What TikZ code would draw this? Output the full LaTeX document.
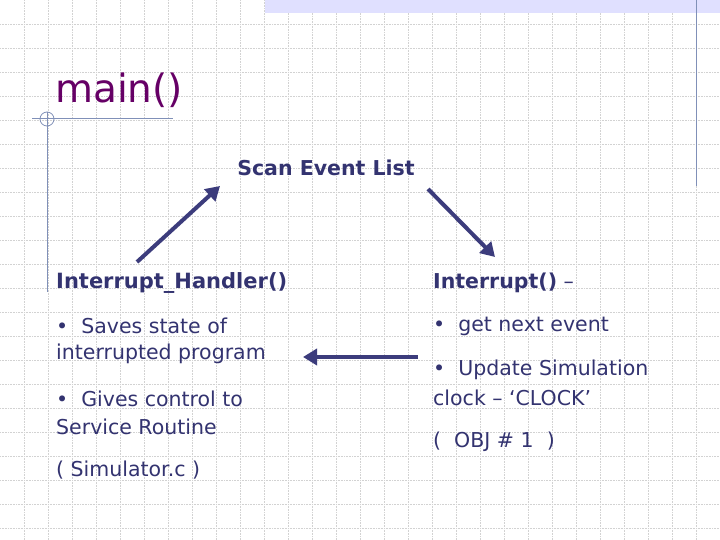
\documentclass[tikz,border=0pt]{standalone}
\usepackage{fontspec}
\setmainfont{DejaVu Sans}
\usetikzlibrary{arrows.meta,patterns}
\definecolor{navy}{HTML}{333370}
\definecolor{arr}{HTML}{3C3C7C}
\definecolor{ttl}{HTML}{660066}
\definecolor{rule}{HTML}{8090B8}
\begin{document}
\begin{tikzpicture}[x=1pt,y=-1pt,
  txt/.style={anchor=west,inner sep=0pt,text=navy,font=\fontsize{20.5}{24}\selectfont},
  conn/.style={draw=arr,line width=4pt,-{Triangle[length=14pt,width=16pt]}}]
\useasboundingbox (0,0) rectangle (720,540);
\fill[white] (0,0) rectangle (720,540);
\foreach \i in {1,...,29} \draw[gray!35,densely dotted,line width=0.6pt] (\i*24,0) -- (\i*24,540);
\foreach \i in {1,...,22} \draw[gray!35,densely dotted,line width=0.6pt] (0,\i*24) -- (720,\i*24);
\fill[blue!12] (265,0) rectangle (720,13);
\draw[rule,line width=1pt] (696,0) -- (696,186);
\draw[rule,line width=1pt] (32,119) -- (173,119);
\draw[rule,line width=1pt] (47,112) -- (47,292);
\draw[rule,line width=0.8pt] (47,119) circle (7);
\node[anchor=base west,inner sep=0pt,text=ttl,font=\fontsize{39}{48}\selectfont] (title) at (55,103) {main()};
\node[inner sep=0pt,text=navy,font=\fontsize{20.5}{24}\selectfont\bfseries] (scan) at (326,168) {Scan Event List};
\coordinate (a1) at (137,262);
\coordinate (b2) at (495,257);
\coordinate (c1) at (418,357);
\coordinate (c2) at (303,357);
\draw[conn] (a1) -- (220,186) coordinate (a2);
\draw[conn] (428,189) coordinate (b1) -- (b2);
\draw[conn] (c1) -- (c2);
\node[txt,font=\fontsize{21}{24}\selectfont\bfseries] (ih) at (56,283) {Interrupt\_Handler()};
\node[txt] (l1) at (56,326) {•\ \ Saves state of};
\node[txt] (l2) at (56,354) {interrupted program};
\node[txt] (l3) at (56,399) {•\ \ Gives control to};
\node[txt] (l4) at (56,427) {Service Routine};
\node[txt] (l5) at (56,470) {( Simulator.c )};
\node[txt] (ir) at (433,283) {\textbf{Interrupt()} –};
\node[txt] (r1) at (433,326) {•\ \ get next event};
\node[txt] (r2) at (433,370) {•\ \ Update Simulation};
\node[txt] (r3) at (433,398) {clock – ‘CLOCK’};
\node[txt] (r4) at (433,442) {(\ \ OBJ \# 1\ \ )};
\end{tikzpicture}
\end{document}
